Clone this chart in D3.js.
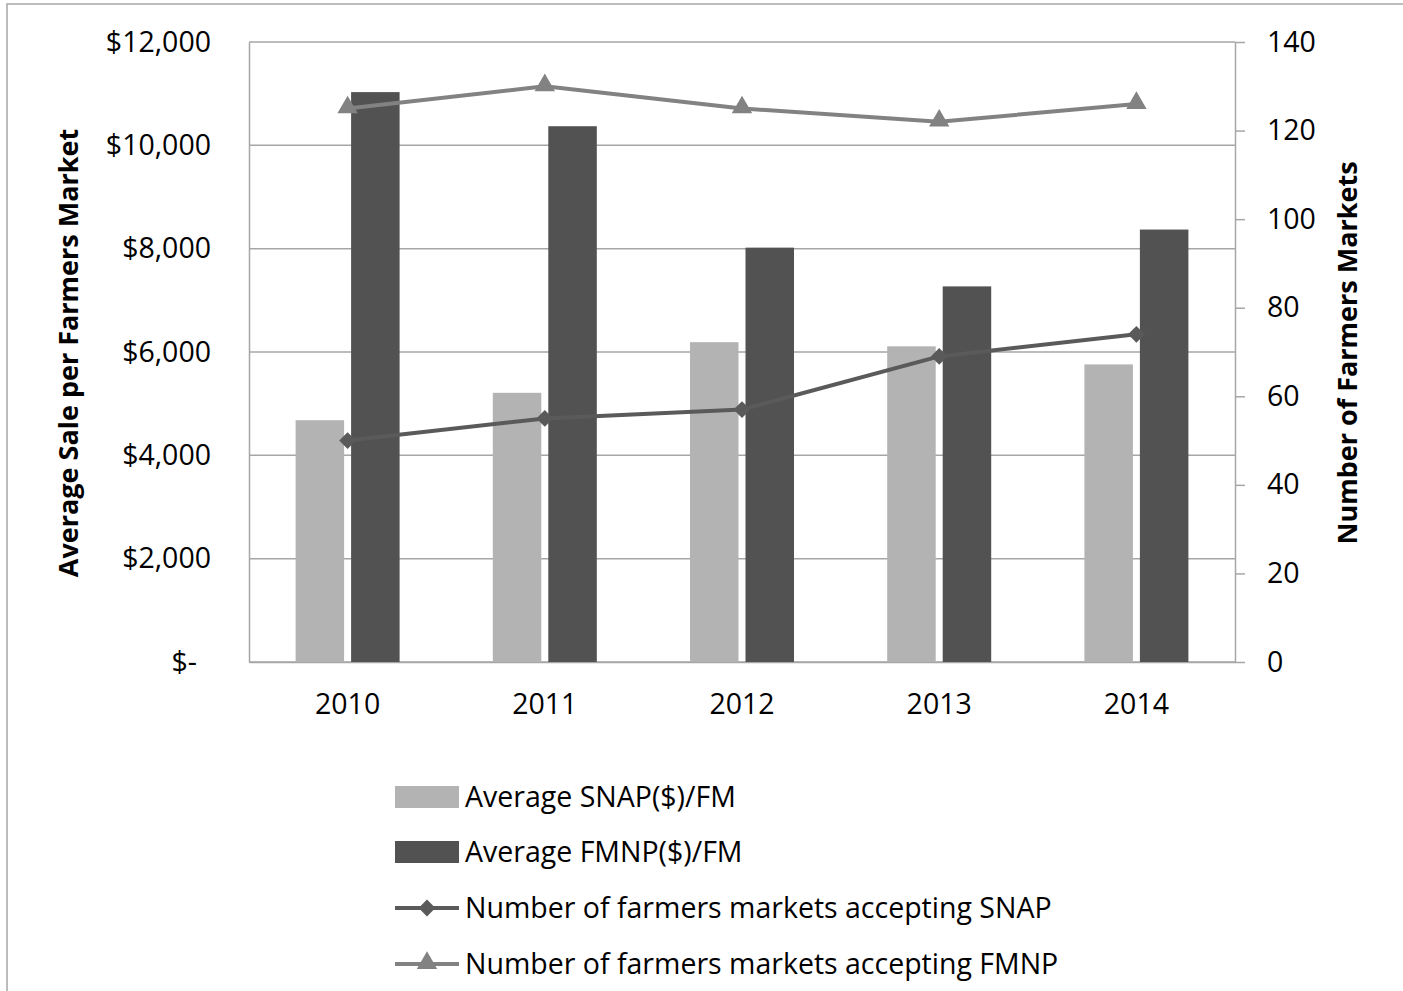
<!DOCTYPE html>
<html>
<head>
<meta charset="utf-8">
<script src="https://cdn.jsdelivr.net/npm/d3@7"></script>
<style>
  html, body { margin: 0; padding: 0; background: #fff; }
  svg { display: block; font-family: "Open Sans", sans-serif; }
</style>
</head>
<body>
<svg id="chart" width="1403" height="991"></svg>
<script>
// Farmers market SNAP / FMNP summary, 2010-2014
const years = ["2010", "2011", "2012", "2013", "2014"];
const avgSnap = [4680, 5210, 6190, 6110, 5760];        // Average SNAP($)/FM
const avgFmnp = [11030, 10370, 8020, 7270, 8370];      // Average FMNP($)/FM
const marketsSnap = [50, 55, 57, 69, 74];              // markets accepting SNAP
const marketsFmnp = [125, 130, 125, 122, 126];         // markets accepting FMNP
const leftTicks = [0, 2000, 4000, 6000, 8000, 10000, 12000];
const rightTicks = [0, 20, 40, 60, 80, 100, 120, 140];
const seriesNames = [
  "Average SNAP($)/FM",
  "Average FMNP($)/FM",
  "Number of farmers markets accepting SNAP",
  "Number of farmers markets accepting FMNP"
];

const svg = d3.select("#chart");
const plot = { left: 249, right: 1235, top: 42, bottom: 662 };

const colors = {
  snapBar: "#b3b3b3",
  fmnpBar: "#525252",
  snapLine: "#5a5a5a",
  fmnpLine: "#828282",
  grid: "#a6a6a6",
  text: "#000"
};

// outer chart frame
svg.append("rect")
  .attr("x", 7).attr("y", 4).attr("width", 1500).attr("height", 1100)
  .attr("fill", "none").attr("stroke", "#a6a6a6").attr("stroke-width", 1.5);

const x = d3.scaleBand().domain(years).range([plot.left, plot.right]);
const xs = d3.scaleBand().domain(["snap", "fmnp"]).range([-52, 52]).paddingInner(0.126);
const yL = d3.scaleLinear().domain([0, 12000]).range([plot.bottom, plot.top]);
const yR = d3.scaleLinear().domain([0, 140]).range([plot.bottom, plot.top]);

// horizontal gridlines
svg.append("g").selectAll("line").data(leftTicks).join("line")
  .attr("x1", plot.left).attr("x2", plot.right)
  .attr("y1", d => yL(d)).attr("y2", d => yL(d))
  .attr("stroke", colors.grid).attr("stroke-width", 1.5);

// left axis
const fmtMoney = d => d === 0 ? "$-" : "$" + d3.format(",")(d);
const gL = svg.append("g").attr("transform", `translate(${plot.left},0)`)
  .call(d3.axisLeft(yL).tickValues(leftTicks).tickFormat(fmtMoney).tickSize(0).tickPadding(38));
gL.select(".domain").attr("stroke", colors.grid).attr("stroke-width", 1.5);
gL.selectAll("text").attr("font-size", 28.5).attr("fill", colors.text)
  .attr("font-family", "Open Sans, sans-serif")
  .attr("dx", d => d === 0 ? -14 : 0);

// right axis
const gR = svg.append("g").attr("transform", `translate(${plot.right},0)`)
  .call(d3.axisRight(yR).tickValues(rightTicks).tickSize(10).tickSizeOuter(0).tickPadding(22));
gR.select(".domain").attr("stroke", colors.grid).attr("stroke-width", 1.5);
gR.selectAll(".tick line").attr("stroke", colors.grid).attr("stroke-width", 1.5);
gR.selectAll("text").attr("font-size", 28.5).attr("fill", colors.text)
  .attr("font-family", "Open Sans, sans-serif");

// bottom axis
const gB = svg.append("g").attr("transform", `translate(0,${plot.bottom})`)
  .call(d3.axisBottom(x).tickSize(0).tickSizeOuter(0).tickPadding(32));
gB.select(".domain").attr("stroke", colors.grid).attr("stroke-width", 1.5);
gB.selectAll("text").attr("font-size", 28.5).attr("fill", colors.text)
  .attr("font-family", "Open Sans, sans-serif");

// bars
const barG = svg.append("g");
barG.selectAll("rect.snap").data(years).join("rect").attr("class", "snap")
  .attr("x", (d) => x(d) + x.bandwidth() / 2 + xs("snap"))
  .attr("width", xs.bandwidth())
  .attr("y", (d, i) => yL(avgSnap[i]))
  .attr("height", (d, i) => yL(0) - yL(avgSnap[i]))
  .attr("fill", colors.snapBar);
barG.selectAll("rect.fmnp").data(years).join("rect").attr("class", "fmnp")
  .attr("x", (d) => x(d) + x.bandwidth() / 2 + xs("fmnp"))
  .attr("width", xs.bandwidth())
  .attr("y", (d, i) => yL(avgFmnp[i]))
  .attr("height", (d, i) => yL(0) - yL(avgFmnp[i]))
  .attr("fill", colors.fmnpBar);

// lines on right axis
const cx = d => x(d) + x.bandwidth() / 2;
const line = d3.line().x(d => cx(d[0])).y(d => yR(d[1]));
const diamond = d3.symbol().type(d3.symbolDiamond2).size(180);
const triangle = d3.symbol().type(d3.symbolTriangle).size(180);

function drawSeries(values, color, sym, dy) {
  const pts = years.map((y, i) => [y, values[i]]);
  svg.append("path").datum(pts).attr("d", line)
    .attr("fill", "none").attr("stroke", color).attr("stroke-width", 4)
    .attr("stroke-linejoin", "round");
  svg.append("g").selectAll("path").data(pts).join("path")
    .attr("d", sym)
    .attr("transform", d => `translate(${cx(d[0])},${yR(d[1]) + dy})`)
    .attr("fill", color);
}
drawSeries(marketsSnap, colors.snapLine, diamond, 0);
drawSeries(marketsFmnp, colors.fmnpLine, triangle, -1);

// axis titles
svg.append("text")
  .attr("transform", `translate(78,353) rotate(-90)`)
  .attr("text-anchor", "middle")
  .attr("font-size", 27).attr("font-weight", 700).attr("fill", colors.text)
  .text("Average Sale per Farmers Market");
svg.append("text")
  .attr("transform", `translate(1357,353) rotate(-90)`)
  .attr("text-anchor", "middle")
  .attr("font-size", 27).attr("font-weight", 700).attr("fill", colors.text)
  .text("Number of Farmers Markets");

// legend
const legendRows = [797, 852, 908, 964];
const lg = svg.append("g");
const sx0 = 395, sx1 = 459;
lg.append("rect").attr("x", sx0).attr("y", legendRows[0] - 11).attr("width", sx1 - sx0).attr("height", 22)
  .attr("fill", colors.snapBar);
lg.append("rect").attr("x", sx0).attr("y", legendRows[1] - 11).attr("width", sx1 - sx0).attr("height", 22)
  .attr("fill", colors.fmnpBar);
[[2, colors.snapLine, diamond, 0], [3, colors.fmnpLine, triangle, -1]].forEach(([i, c, s, dy]) => {
  lg.append("line").attr("x1", sx0).attr("x2", sx1)
    .attr("y1", legendRows[i]).attr("y2", legendRows[i])
    .attr("stroke", c).attr("stroke-width", 4);
  lg.append("path").attr("d", s)
    .attr("transform", `translate(${(sx0 + sx1) / 2},${legendRows[i] + dy})`)
    .attr("fill", c);
});
lg.selectAll("text").data(seriesNames).join("text")
  .attr("x", 465).attr("y", (d, i) => legendRows[i])
  .attr("dy", "0.35em")
  .attr("font-size", 28.5).attr("fill", colors.text)
  .text(d => d);
</script>
</body>
</html>
